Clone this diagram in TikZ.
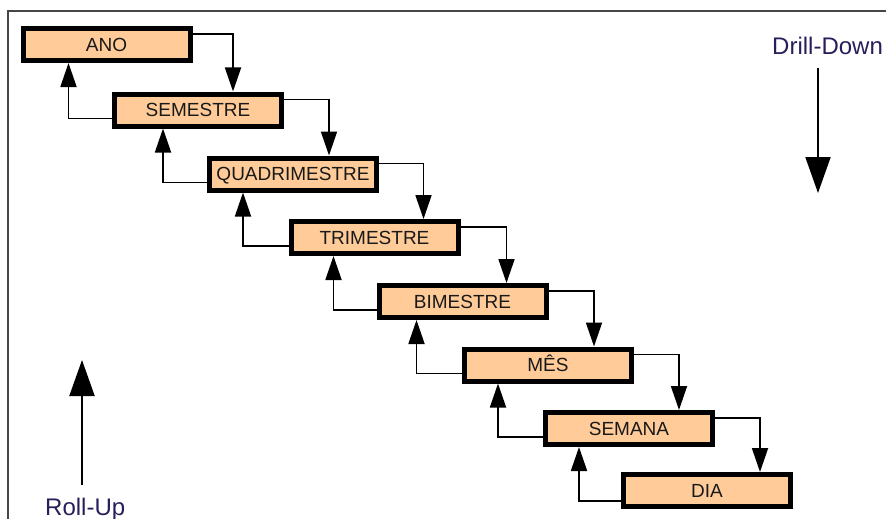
\documentclass[tikz,border=0pt]{standalone}
\usepackage{fontspec}
\setmainfont{Liberation Sans}
\usetikzlibrary{arrows.meta}
\definecolor{boxfill}{RGB}{255,204,153}
\definecolor{labelink}{RGB}{40,30,90}
\definecolor{framegray}{RGB}{70,70,70}
\begin{document}
\begin{tikzpicture}[x=1pt,y=-1pt,
  level/.style={draw=black, line width=5pt, fill=boxfill,
    minimum width=167pt, minimum height=32pt, inner sep=0pt,
    font=\fontsize{19}{22}\selectfont, text=black!90,
    text height=13.6pt, text depth=0pt},
  drill/.style={line width=1.8pt, -{Triangle[length=24pt,width=16pt]}},
  roll/.style={line width=1.8pt, -{Triangle[length=24pt,width=16pt]}},
  bigarrow/.style={line width=2pt, -{Triangle[length=36pt,width=25pt]}},
  sidelabel/.style={font=\fontsize{24}{28}\selectfont, text=labelink, inner sep=0pt}
]
\useasboundingbox (0,0) rectangle (886,519);

% outer frame (only top and left edges fall inside the page)
\draw[framegray, line width=2pt] (8,540) -- (8,11) -- (900,11);

% time hierarchy levels
\node[level] (ano)    at (106.5,44.5) {ANO};
\node[level] (sem)    at (198,110)    {SEMESTRE};
\node[level] (quad)   at (293,174)    {QUADRIMESTRE};
\node[level] (tri)    at (374.5,237.5){TRIMESTRE};
\node[level] (bim)    at (462.5,301.5){BIMESTRE};
\node[level] (mes)    at (548,365)    {MÊS};
\node[level] (semana) at (629,428.5)  {SEMANA};
\node[level] (dia)    at (707,490.5)  {DIA};

% drill-down links (right side, going down)
\draw[drill] ([yshift=-8pt]ano.north east)    -| ([xshift=121pt]sem.north west);
\draw[drill] ([yshift=-8pt]sem.north east)    -| ([xshift=122pt]quad.north west);
\draw[drill] ([yshift=-8pt]quad.north east)   -| ([xshift=135pt]tri.north west);
\draw[drill] ([yshift=-8pt]tri.north east)    -| ([xshift=130pt]bim.north west);
\draw[drill] ([yshift=-8pt]bim.north east)    -| ([xshift=132pt]mes.north west);
\draw[drill] ([yshift=-8pt]mes.north east)    -| ([xshift=136pt]semana.north west);
\draw[drill] ([yshift=-8pt]semana.north east) -| ([xshift=139pt]dia.north west);

% roll-up links (left side, going up)
\draw[roll] ([yshift=10pt]sem.south west)    -| ([xshift=48pt]ano.south west);
\draw[roll] ([yshift=10pt]quad.south west)   -| ([xshift=51pt]sem.south west);
\draw[roll] ([yshift=10pt]tri.south west)    -| ([xshift=36pt]quad.south west);
\draw[roll] ([yshift=10pt]bim.south west)    -| ([xshift=45pt]tri.south west);
\draw[roll] ([yshift=10pt]mes.south west)    -| ([xshift=40pt]bim.south west);
\draw[roll] ([yshift=10pt]semana.south west) -| ([xshift=36pt]mes.south west);
\draw[roll] ([yshift=8pt]dia.south west)     -| ([xshift=36pt]semana.south west);

% direction legends
\node[sidelabel, anchor=base west] (ddlabel) at (772,55) {Drill-Down};
\coordinate (ddstart) at (818,68);
\coordinate (ddend)   at (818,193);
\draw[bigarrow] (ddstart) -- (ddend);

\node[sidelabel, anchor=base west] (rulabel) at (45,515) {Roll-Up};
\coordinate (rustart) at (82,485);
\coordinate (ruend)   at (82,360);
\draw[bigarrow] (rustart) -- (ruend);
\end{tikzpicture}
\end{document}
